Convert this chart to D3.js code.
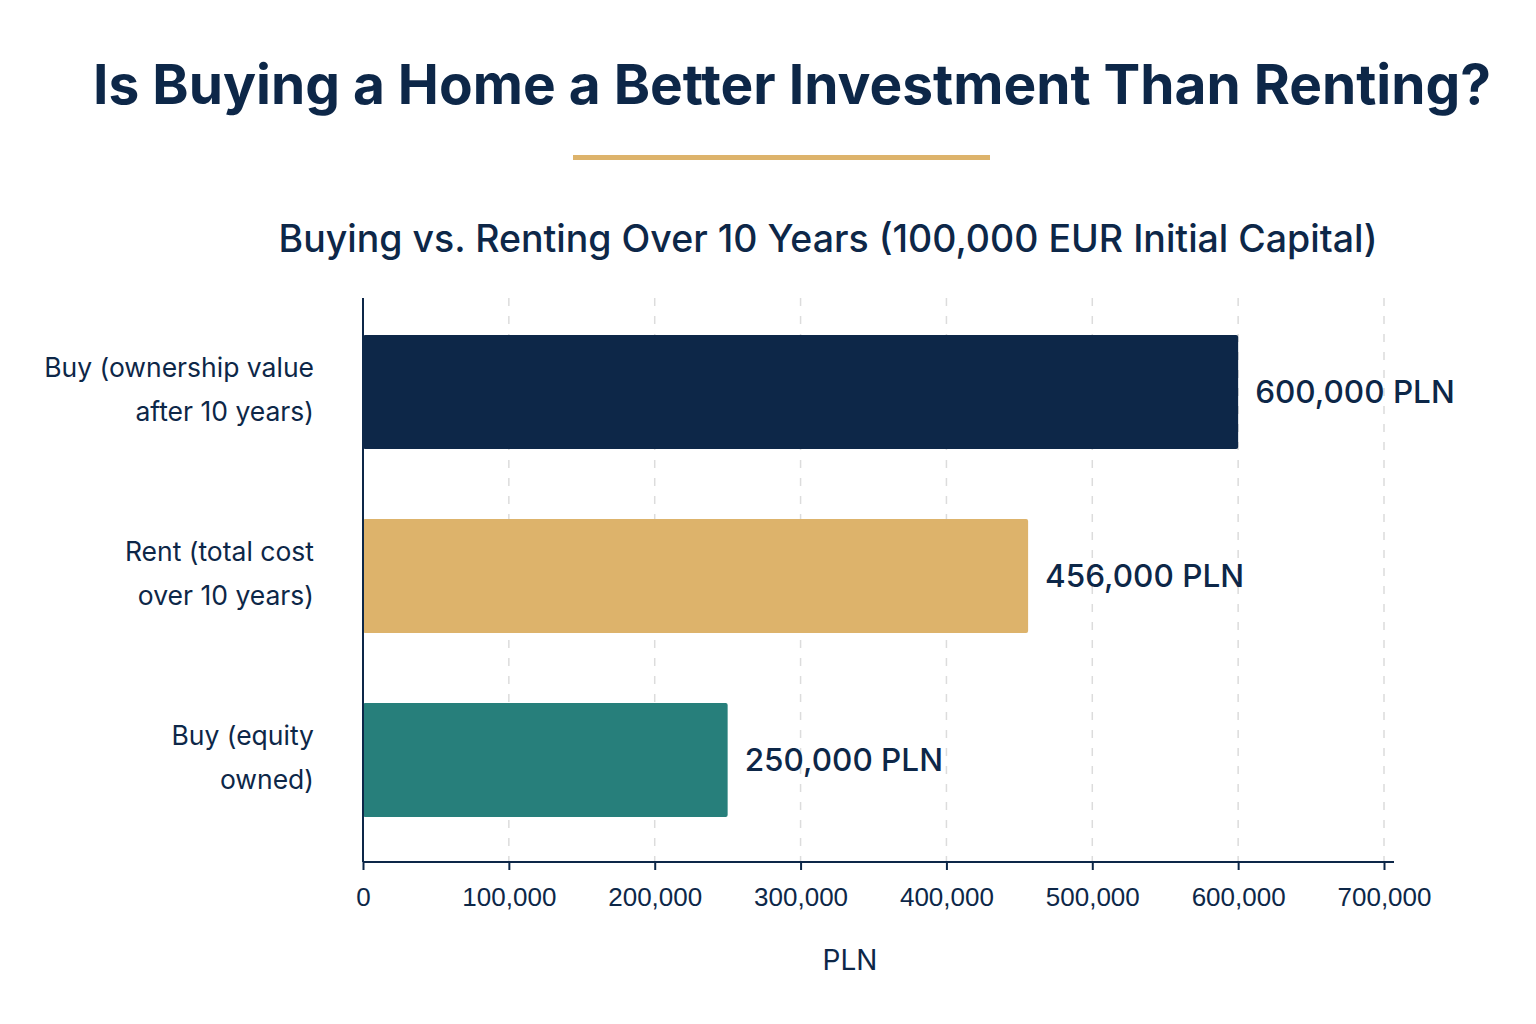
<!DOCTYPE html>
<head>
    <meta charset="utf-8">
    <style>
        body { margin: 0; background: #fff; }
        svg { font-family: Inter, "Noto Sans", sans-serif; }
        .tick text { fill: #0d2748; font-size: 26px; }
    </style>
</head>
<svg width="1536" height="1024" class="chart"></svg>
<script src="https://cdn.jsdelivr.net/npm/d3@7"></script>
<script>
    // data
    const categories = [
        ["Buy (ownership value", "after 10 years)"],
        ["Rent (total cost", "over 10 years)"],
        ["Buy (equity", "owned)"]
    ];
    const values = [600000, 456000, 250000];
    const valueLabels = ["600,000 PLN", "456,000 PLN", "250,000 PLN"];
    const tickValues = [0, 100000, 200000, 300000, 400000, 500000, 600000, 700000];
    const colors = ["#0d2748", "#ddb36b", "#277f7b"];

    const navy = "#0d2748";
    var svg = d3.select(".chart");

    // title + underline + subtitle
    svg.append("text")
        .attr("x", 792).attr("y", 104)
        .attr("text-anchor", "middle")
        .attr("font-size", 55).attr("font-weight", 700)
        .attr("fill", navy)
        .text("Is Buying a Home a Better Investment Than Renting?");

    svg.append("rect")
        .attr("x", 573).attr("y", 155)
        .attr("width", 417).attr("height", 5)
        .attr("fill", "#ddb36b");

    svg.append("text")
        .attr("x", 828).attr("y", 252)
        .attr("text-anchor", "middle")
        .attr("font-size", 37.5).attr("font-weight", 500)
        .attr("fill", navy)
        .text("Buying vs. Renting Over 10 Years (100,000 EUR Initial Capital)");

    var plotLeft = 363, plotTop = 298, plotBottom = 862, plotRight = 1394;

    var x = d3.scaleLinear().domain([0, 700000]).range([plotLeft, 1384]);
    var y = d3.scaleBand()
        .domain(d3.range(categories.length))
        .range([300, 852])
        .paddingInner(0.38)
        .paddingOuter(0.19);

    // gridlines
    svg.append("g")
        .selectAll("line")
        .data(tickValues.slice(1))
        .enter().append("line")
        .attr("x1", d => x(d)).attr("x2", d => x(d))
        .attr("y1", plotTop).attr("y2", plotBottom)
        .attr("stroke", "#dcdcdc")
        .attr("stroke-width", 1.5)
        .attr("stroke-dasharray", "8,10");

    // bars
    svg.append("g")
        .selectAll("rect")
        .data(values)
        .enter().append("rect")
        .attr("x", x(0))
        .attr("y", (d, i) => y(i))
        .attr("width", d => x(d) - x(0))
        .attr("height", y.bandwidth())
        .attr("rx", 2)
        .attr("fill", (d, i) => colors[i]);

    // value labels
    svg.append("g")
        .selectAll("text")
        .data(values)
        .enter().append("text")
        .attr("x", d => x(d) + 17)
        .attr("y", (d, i) => y(i) + y.bandwidth() / 2)
        .attr("dy", "0.35em")
        .attr("font-size", 31.5).attr("font-weight", 500)
        .attr("fill", navy)
        .text((d, i) => valueLabels[i]);

    // category labels
    var cat = svg.append("g")
        .selectAll("text")
        .data(categories)
        .enter().append("text")
        .attr("text-anchor", "end")
        .attr("font-size", 26.5)
        .attr("fill", navy);
    cat.selectAll("tspan")
        .data((d, i) => d.map(t => ({t: t, i: i})))
        .enter().append("tspan")
        .attr("x", 314)
        .attr("y", (d, j) => y(d.i) + y.bandwidth() / 2 - 24 + j * 44)
        .attr("dy", "0.35em")
        .text(d => d.t);

    // x axis
    var xAxis = svg.append("g")
        .attr("transform", "translate(0," + plotBottom + ")")
        .call(d3.axisBottom(x)
            .tickValues(tickValues)
            .tickSize(8)
            .tickPadding(18)
            .tickFormat(d3.format(",")));
    xAxis.select(".domain").remove();
    xAxis.selectAll(".tick line").attr("stroke", navy).attr("stroke-width", 2);

    svg.append("line")
        .attr("x1", plotLeft).attr("x2", plotRight)
        .attr("y1", plotBottom).attr("y2", plotBottom)
        .attr("stroke", navy).attr("stroke-width", 2);

    // y axis line
    svg.append("line")
        .attr("x1", plotLeft).attr("x2", plotLeft)
        .attr("y1", plotTop).attr("y2", plotBottom)
        .attr("stroke", navy).attr("stroke-width", 2);

    svg.append("text")
        .attr("x", 850).attr("y", 970)
        .attr("text-anchor", "middle")
        .attr("font-size", 28)
        .attr("fill", navy)
        .text("PLN");
</script>
